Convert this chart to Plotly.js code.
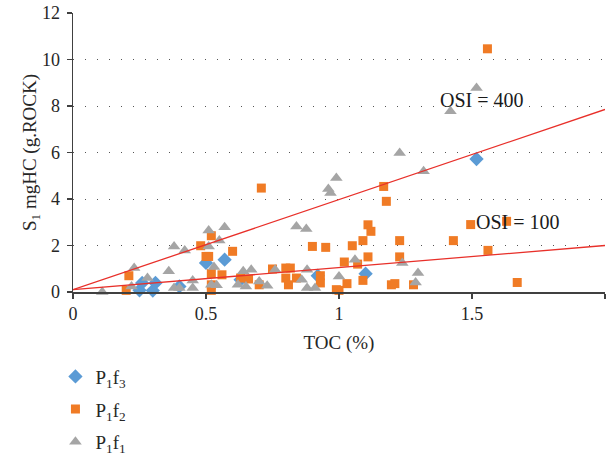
<!DOCTYPE html>
<html>
<head>
<meta charset="utf-8">
<script src="https://cdn.plot.ly/plotly-3.0.1.min.js"></script>
<style>html,body{margin:0;padding:0;background:#fff;}</style>
</head>
<body>
<div id="chart" style="width:609px;height:456px;"></div>
<script>
// P1f3 (blue diamonds)
const f3_toc = [0.25, 0.26, 0.30, 0.31, 0.40, 0.50, 0.57, 0.63, 0.92, 1.10, 1.517];
const f3_s1  = [0.07, 0.39, 0.06, 0.39, 0.24, 1.25, 1.39, 0.53, 0.70, 0.79, 5.72];

// P1f2 (orange squares)
const f2_toc = [0.21, 0.20, 0.48, 0.50, 0.52, 0.51, 0.60, 0.52, 0.56, 0.52, 0.52, 0.708, 0.63, 0.66, 0.70, 0.75, 0.80, 0.817, 0.80, 0.81, 0.84, 0.90, 0.95, 0.93, 0.93, 0.99,
                1.168, 1.178, 1.109, 1.12, 1.09, 1.05, 1.228, 1.43, 1.109, 1.228, 1.02, 1.07, 1.03, 1.09, 1.00, 1.197, 1.21, 1.28, 1.495, 1.63, 1.56, 1.67, 1.558];
const f2_s1  = [0.70, 0.07, 1.99, 1.53, 2.42, 1.53, 1.75, 0.79, 0.74, 0.31, 0.07, 4.47, 0.60, 0.56, 0.31, 0.99, 1.03, 1.03, 0.60, 0.31, 0.60, 1.96, 1.92, 0.70, 0.39, 0.10,
                4.54, 3.90, 2.89, 2.61, 2.21, 1.99, 2.21, 2.21, 1.51, 1.51, 1.29, 1.20, 0.36, 0.50, 0.07, 0.31, 0.36, 0.31, 2.90, 3.04, 1.79, 0.41, 10.46];

// P1f1 (gray triangles)
const f1_toc = [0.11, 0.23, 0.22, 0.28, 0.36, 0.38, 0.42, 0.38, 0.40, 0.45, 0.45, 0.51, 0.51, 0.55, 0.57, 0.53, 0.52, 0.54,
                0.64, 0.67, 0.62, 0.65, 0.70, 0.73, 0.76, 0.84, 0.877, 0.86, 0.88, 0.88, 0.91, 0.96, 0.968, 0.99, 1.00,
                1.228, 1.318, 1.419, 1.517, 1.06, 1.238, 1.297, 1.288];
const f1_s1  = [0.00, 1.03, 0.24, 0.60, 0.89, 1.96, 1.79, 0.17, 0.17, 0.50, 0.17, 2.65, 1.96, 2.22, 2.78, 1.07, 0.31, 0.29,
                0.89, 0.96, 0.31, 0.24, 0.45, 0.27, 0.96, 2.82, 2.71, 0.53, 0.96, 0.17, 0.17, 4.43, 4.26, 4.90, 0.67,
                5.98, 5.19, 7.77, 8.77, 1.39, 1.25, 0.82, 0.41];

// OSI reference lines
const osi_x   = [0, 2];
const osi400  = [0.1, 7.85];
const osi100  = [0.1, 2.0];

const serif = "Liberation Serif, Times New Roman, serif";
const lineColor = "#E8302A";

const traces = [
  {x: f3_toc, y: f3_s1, mode: "markers", type: "scatter", name: "P<sub>1</sub>f<sub>3</sub>", legendgroup: "g3",
   marker: {symbol: "diamond", size: 11, color: "#5B9BD5"}, cliponaxis: false},
  {x: f2_toc, y: f2_s1, mode: "markers", type: "scatter", name: "P<sub>1</sub>f<sub>2</sub>", legendgroup: "g2",
   marker: {symbol: "square", size: 9, color: "#F07B25"}, cliponaxis: false},
  {x: f1_toc, y: f1_s1, mode: "markers", type: "scatter", name: "P<sub>1</sub>f<sub>1</sub>", legendgroup: "g1",
   marker: {symbol: "triangle-up", size: 11, color: "#A5A5A5"}, cliponaxis: false},
  {x: osi_x, y: osi400, mode: "lines", type: "scatter", showlegend: false, hoverinfo: "skip",
   line: {color: lineColor, width: 1.3}},
  {x: osi_x, y: osi100, mode: "lines", type: "scatter", showlegend: false, hoverinfo: "skip",
   line: {color: lineColor, width: 1.3}}
];

const layout = {
  width: 609, height: 456,
  margin: {l: 73, r: 4, t: 13, b: 164, autoexpand: false},
  paper_bgcolor: "#fff", plot_bgcolor: "#fff",
  font: {family: serif, size: 17, color: "#262626"},
  showlegend: true,
  legend: {x: -0.033, xanchor: "left", y: -0.235, yanchor: "top",
           font: {family: serif, size: 19, color: "#262626"},
           traceorder: "grouped", tracegroupgap: 5, itemwidth: 30, bgcolor: "rgba(0,0,0,0)"},
  xaxis: {
    range: [0, 2], tickvals: [0, 0.5, 1, 1.5, 2], ticktext: ["0", "0.5", "1", "1.5", "2"],
    showgrid: false, zeroline: false, showline: true, linecolor: "#404040", linewidth: 1.5,
    ticks: "outside", ticklen: 5, tickcolor: "#404040", tickwidth: 1.5,
    tickfont: {family: serif, size: 18, color: "#262626"},
    title: {text: "TOC (%)", font: {family: serif, size: 19, color: "#262626"}, standoff: 12}
  },
  yaxis: {
    range: [0, 12], tickvals: [0, 2, 4, 6, 8, 10, 12],
    showgrid: true, gridcolor: "#555555", gridwidth: 1, griddash: "1px,11px",
    zeroline: false, showline: true, linecolor: "#404040", linewidth: 1.5,
    ticks: "outside", ticklen: 5, tickcolor: "#404040", tickwidth: 1.5,
    ticklabelstandoff: 3,
    tickfont: {family: serif, size: 18, color: "#262626"},
    title: {text: "S<sub>1</sub> mgHC (g.ROCK)", font: {family: serif, size: 19, color: "#262626"}, standoff: 0}
  },
  annotations: [
    {x: 1.538, y: 8.27, xref: "x", yref: "y", text: "OSI = 400", showarrow: false,
     font: {family: serif, size: 20, color: "#1a1a1a"}},
    {x: 1.672, y: 2.99, xref: "x", yref: "y", text: "OSI = 100", showarrow: false,
     font: {family: serif, size: 20, color: "#1a1a1a"}}
  ]
};

Plotly.newPlot("chart", traces, layout, {displayModeBar: false, staticPlot: true});
</script>
</body>
</html>
